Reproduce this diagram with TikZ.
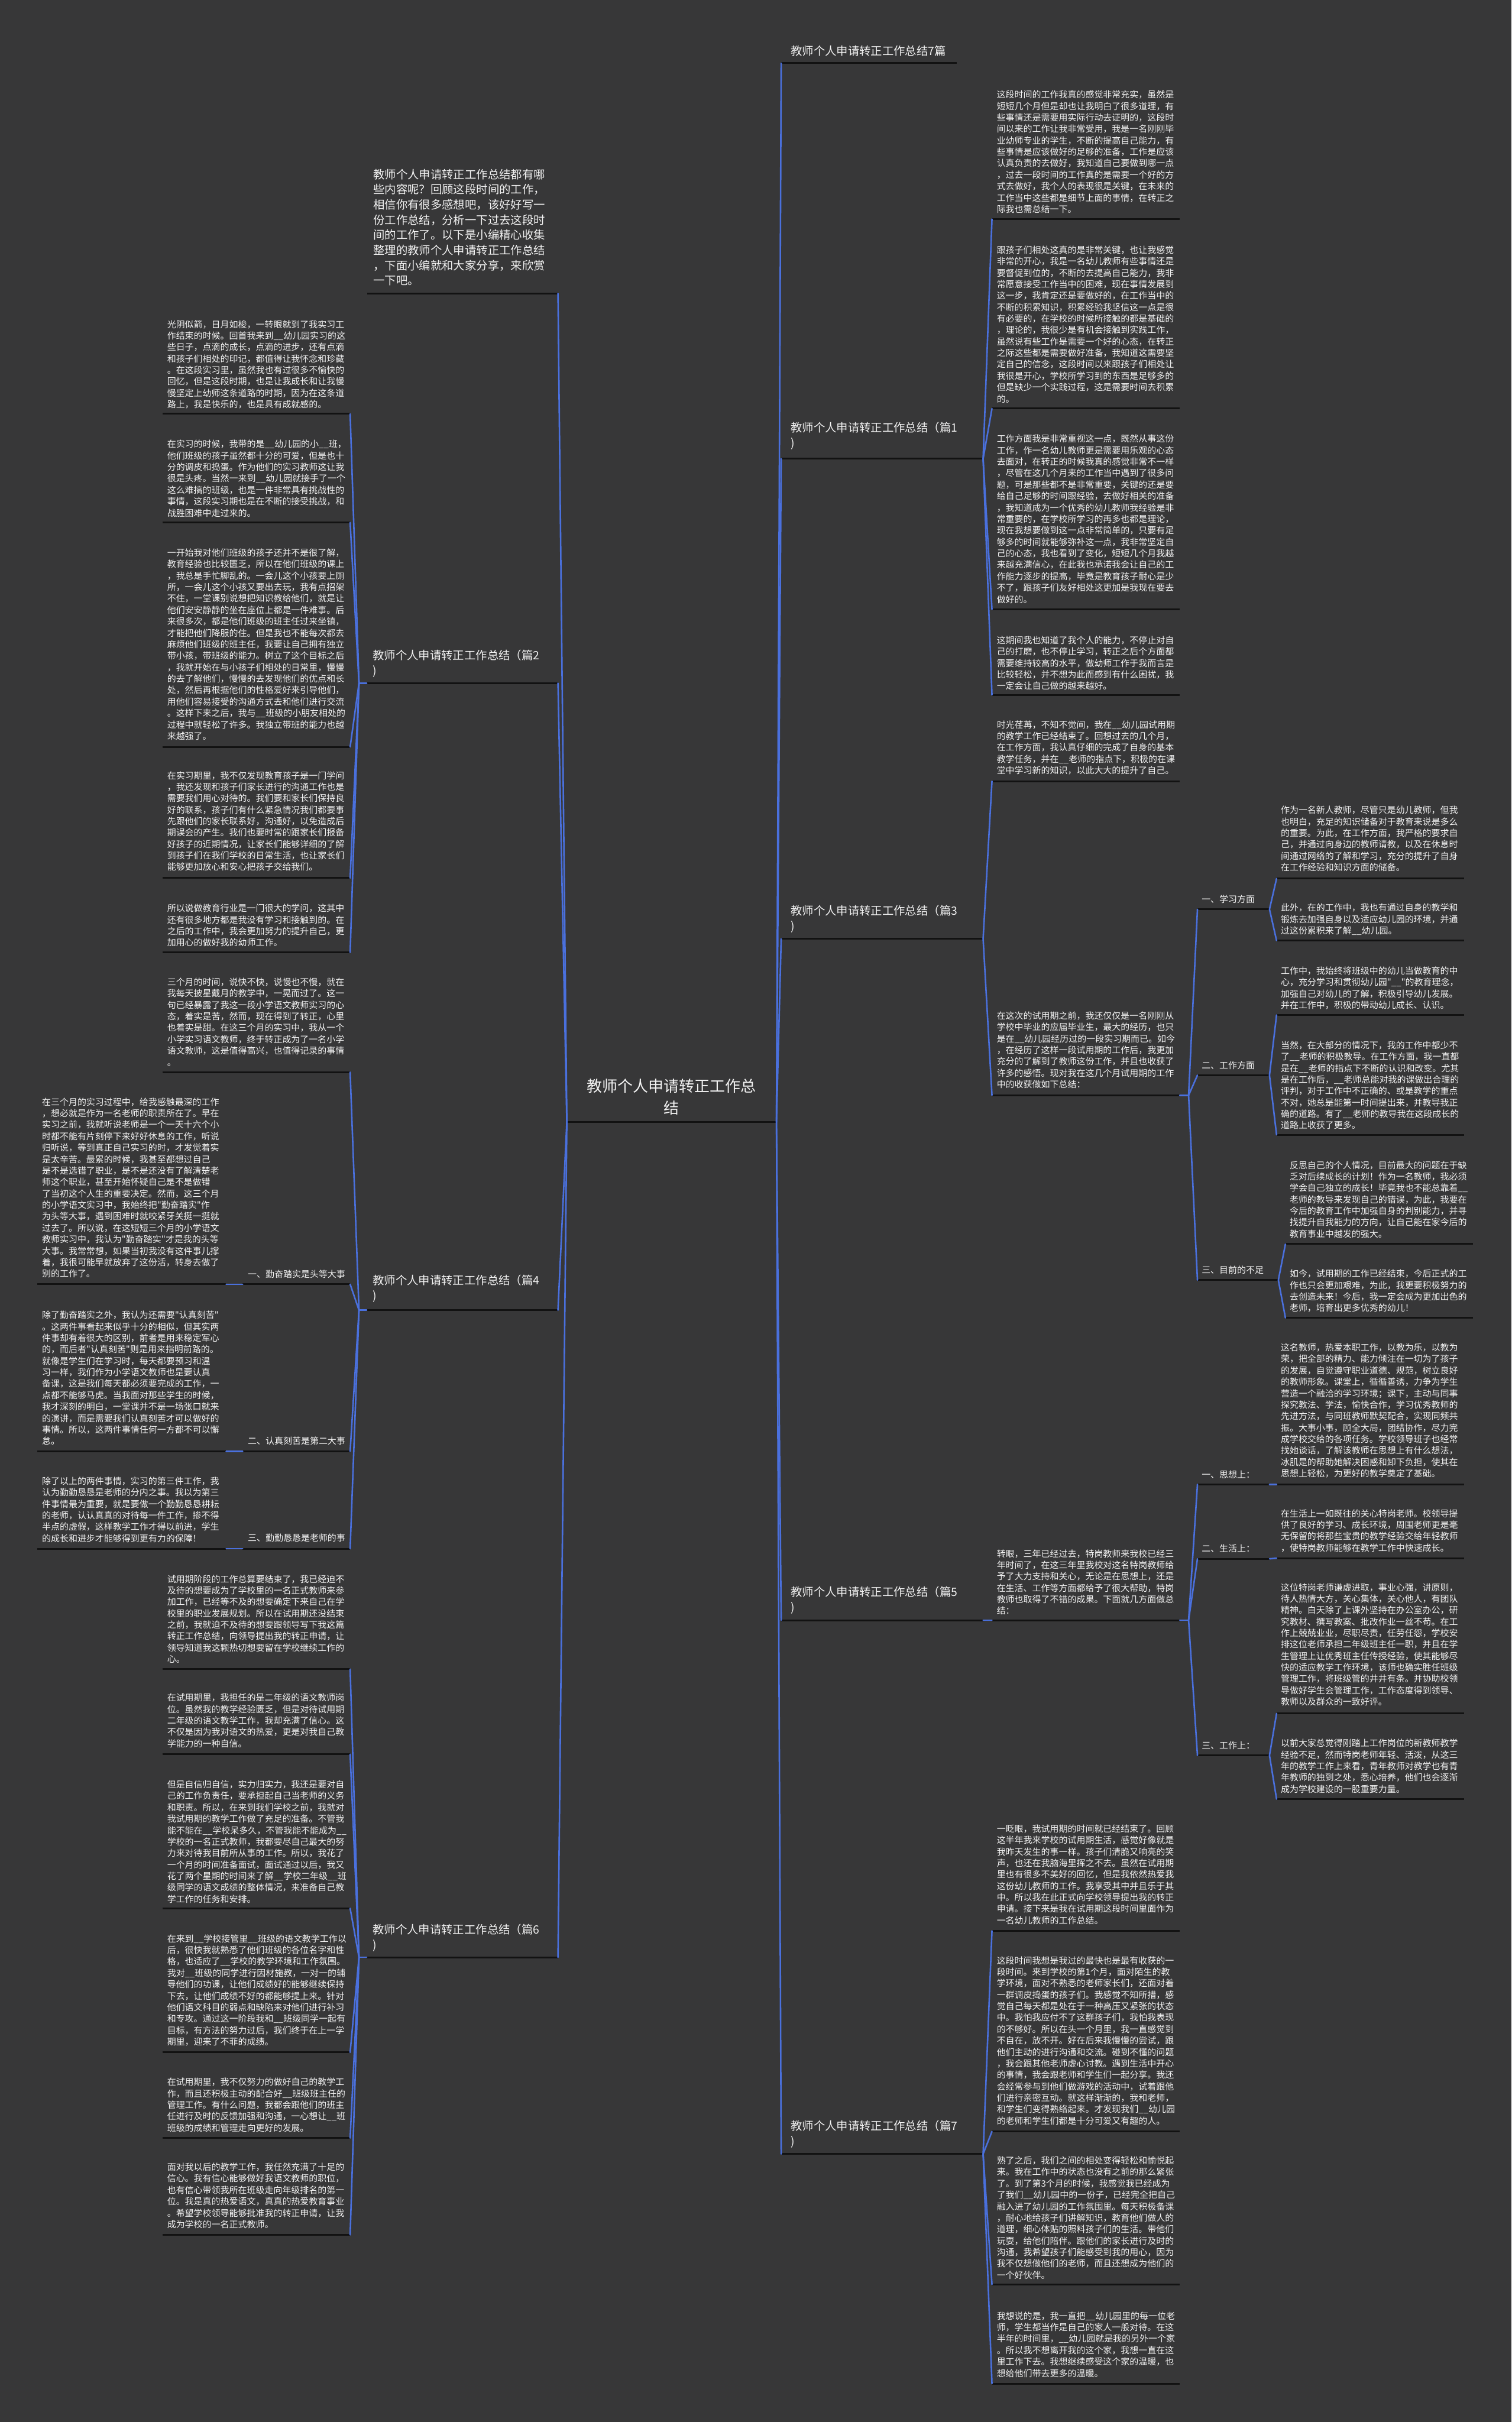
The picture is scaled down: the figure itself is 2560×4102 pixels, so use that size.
\documentclass[tikz,border=0pt]{standalone}
\usepackage{fontspec}
\newfontfamily\cjk{Noto Sans CJK SC}
\definecolor{bgc}{RGB}{55,55,56}
\definecolor{bl}{RGB}{74,112,221}
\definecolor{txt}{RGB}{242,242,242}
\definecolor{ulc}{RGB}{18,18,18}
\tikzset{
 leaf/.style={anchor=north west,inner sep=0pt,align=left,text=txt,font=\cjk\fontsize{15}{19.4}\selectfont},
 sublab/.style={inner sep=0pt,text=txt,font=\cjk\fontsize{15}{19.4}\selectfont},
 branch/.style={anchor=north west,inner sep=0pt,align=left,text=txt,font=\cjk\fontsize{19.4}{26}\selectfont},
 ul/.style={draw=ulc,line width=3pt},
 conn/.style={draw=bl,line width=2.6pt,line cap=round,line join=round},
}
% name, xl, xr, xtext, yfirst, yunder, text
\newcommand\LN[7]{%
  \node[leaf] (#1) at (#4,{#5-7}) {#7};
  \coordinate (#1L) at (#2,#6);
  \coordinate (#1R) at (#3,#6);
  \draw[ul] (#1L) -- (#1R);}
% name, xtext, yfirst, xl, xr, yunder, text
\newcommand\BR[7]{%
  \node[branch] (#1) at (#2,{#3-9}) {#7};
  \coordinate (#1L) at (#4,#6);
  \coordinate (#1R) at (#5,#6);
  \draw[ul] (#1L) -- (#1R);}
\begin{document}
\begin{tikzpicture}[x=1pt,y=-1pt]
\fill[bgc] (0,0) rectangle (2560,4102);
\useasboundingbox (0,0) rectangle (2560,4102);

% ---------- centre ----------
\node[anchor=north,inner sep=0pt,align=center,text=txt,font=\cjk\fontsize{26}{37}\selectfont] (center) at (1137,1827) {教师个人申请转正工作总\\结};
\coordinate (cL) at (960,1900);
\coordinate (cR) at (1315,1900);
\draw[ul] (cL) -- (cR);

% ---------- left branches ----------
\node[anchor=north west,inner sep=0pt,align=left,text=txt,font=\cjk\fontsize{19.4}{25.7}\selectfont] (intro) at (632,286) {教师个人申请转正工作总结都有哪\\些内容呢？回顾这段时间的工作，\\相信你有很多感想吧，该好好写一\\份工作总结，分析一下过去这段时\\间的工作了。以下是小编精心收集\\整理的教师个人申请转正工作总结\\，下面小编就和大家分享，来欣赏\\一下吧。};
\coordinate (introL) at (622,497);
\coordinate (introR) at (945,497);
\draw[ul] (introL) -- (introR);

\BR{b2}{631}{1109}{621}{945}{1157}{教师个人申请转正工作总结（篇2\\)}
\BR{b4}{631}{2168}{621}{945}{2219}{教师个人申请转正工作总结（篇4\\)}
\BR{b6}{631}{3267}{621}{945}{3315}{教师个人申请转正工作总结（篇6\\)}

% ---------- right branches ----------
\node[branch] (title) at (1339,{86-9}) {教师个人申请转正工作总结7篇};
\coordinate (titleL) at (1323,107);
\coordinate (titleR) at (1620,107);
\draw[ul] (titleL) -- (titleR);
\BR{b1}{1339}{724}{1323}{1665}{777}{教师个人申请转正工作总结（篇1\\)}
\BR{b3}{1339}{1542}{1323}{1665}{1590}{教师个人申请转正工作总结（篇3\\)}
\BR{b5}{1339}{2696}{1323}{1665}{2744}{教师个人申请转正工作总结（篇5\\)}
\BR{b7}{1339}{3600}{1323}{1665}{3648}{教师个人申请转正工作总结（篇7\\)}

% ---------- centre connectors ----------
\foreach \t in {introR,b2R,b4R,b6R}{\draw[conn] (cL) -- (\t);}
\foreach \t in {titleL,b1L,b3L,b5L,b7L}{\draw[conn] (cR) -- (\t);}

% ---------- 篇2 leaves ----------
\LN{l1}{275}{593}{283}{549}{701}{光阴似箭，日月如梭，一转眼就到了我实习工\\作结束的时候。回首我来到\_\_幼儿园实习的这\\些日子，点滴的成长，点滴的进步，还有点滴\\和孩子们相处的印记，都值得让我怀念和珍藏\\。在这段实习里，虽然我也有过很多不愉快的\\回忆，但是这段时期，也是让我成长和让我慢\\慢坚定上幼师这条道路的时期，因为在这条道\\路上，我是快乐的，也是具有成就感的。}
\LN{l2}{275}{593}{283}{752}{885}{在实习的时候，我带的是\_\_幼儿园的小\_\_班，\\他们班级的孩子虽然都十分的可爱，但是也十\\分的调皮和捣蛋。作为他们的实习教师这让我\\很是头疼。当然一来到\_\_幼儿园就接手了一个\\这么难搞的班级，也是一件非常具有挑战性的\\事情，这段实习期也是在不断的接受挑战，和\\战胜困难中走过来的。}
\LN{l3}{275}{593}{283}{936}{1265}{一开始我对他们班级的孩子还并不是很了解，\\教育经验也比较匮乏，所以在他们班级的课上\\，我总是手忙脚乱的。一会儿这个小孩要上厕\\所，一会儿这个小孩又要出去玩，我有点招架\\不住，一堂课别说想把知识教给他们，就是让\\他们安安静静的坐在座位上都是一件难事。后\\来很多次，都是他们班级的班主任过来坐镇，\\才能把他们降服的住。但是我也不能每次都去\\麻烦他们班级的班主任，我要让自己拥有独立\\带小孩，带班级的能力。树立了这个目标之后\\，我就开始在与小孩子们相处的日常里，慢慢\\的去了解他们，慢慢的去发现他们的优点和长\\处，然后再根据他们的性格爱好来引导他们，\\用他们容易接受的沟通方式去和他们进行交流\\。这样下来之后，我与\_\_班级的小朋友相处的\\过程中就轻松了许多。我独立带班的能力也越\\来越强了。}
\LN{l4}{275}{593}{283}{1313}{1487}{在实习期里，我不仅发现教育孩子是一门学问\\，我还发现和孩子们家长进行的沟通工作也是\\需要我们用心对待的。我们要和家长们保持良\\好的联系，孩子们有什么紧急情况我们都要事\\先跟他们的家长联系好，沟通好，以免造成后\\期误会的产生。我们也要时常的跟家长们报备\\好孩子的近期情况，让家长们能够详细的了解\\到孩子们在我们学校的日常生活，也让家长们\\能够更加放心和安心把孩子交给我们。}
\LN{l5}{275}{593}{283}{1538}{1613}{所以说做教育行业是一门很大的学问，这其中\\还有很多地方都是我没有学习和接触到的。在\\之后的工作中，我会更加努力的提升自己，更\\加用心的做好我的幼师工作。}
\coordinate (b2J) at (608,1157);
\draw[conn] (b2L) -- (b2J);
\foreach \t in {l1R,l2R,l3R,l4R,l5R}{\draw[conn] (b2J) -- (\t);}

% ---------- 篇4 ----------
\LN{l6}{275}{593}{283}{1663}{1816}{三个月的时间，说快不快，说慢也不慢，就在\\我每天披星戴月的教学中，一晃而过了。这一\\句已经暴露了我这一段小学语文教师实习的心\\态，着实是苦，然而，现在得到了转正，心里\\也着实是甜。在这三个月的实习中，我从一个\\小学实习语文教师，终于转正成为了一名小学\\语文教师，这是值得高兴，也值得记录的事情\\。}
\node[sublab,anchor=east] (s41) at (585,2158) {一、勤奋踏实是头等大事};
\node[sublab,anchor=east] (s42) at (585,2440) {二、认真刻苦是第二大事};
\node[sublab,anchor=east] (s43) at (585,2605) {三、勤勤恳恳是老师的事};
\coordinate (s41L) at (411,2175); \coordinate (s41R) at (593,2175);
\coordinate (s42L) at (411,2458); \coordinate (s42R) at (593,2458);
\coordinate (s43L) at (411,2623); \coordinate (s43R) at (593,2623);
\draw[ul] (s41L) -- (s41R); \draw[ul] (s42L) -- (s42R); \draw[ul] (s43L) -- (s43R);
\LN{t1}{63}{383}{71}{1866}{2175}{在三个月的实习过程中，给我感触最深的工作\\，想必就是作为一名老师的职责所在了。早在\\实习之前，我就听说老师是一个一天十六个小\\时都不能有片刻停下来好好休息的工作，听说\\归听说，等到真正自己实习的时，才发觉着实\\是太辛苦。最累的时候，我甚至都想过自己\\是不是选错了职业，是不是还没有了解清楚老\\师这个职业，甚至开始怀疑自己是不是做错\\了当初这个人生的重要决定。然而，这三个月\\的小学语文实习中，我始终把"勤奋踏实"作\\为头等大事，遇到困难时就咬紧牙关挺一挺就\\过去了。所以说，在这短短三个月的小学语文\\教师实习中，我认为"勤奋踏实"才是我的头等\\大事。我常常想，如果当初我没有这件事儿撑\\着，我很可能早就放弃了这份活，转身去做了\\别的工作了。}
\LN{t2}{63}{383}{71}{2227}{2458}{除了勤奋踏实之外，我认为还需要"认真刻苦"\\。这两件事看起来似乎十分的相似，但其实两\\件事却有着很大的区别，前者是用来稳定军心\\的，而后者"认真刻苦"则是用来指明前路的。\\就像是学生们在学习时，每天都要预习和温\\习一样，我们作为小学语文教师也是要认真\\备课，这是我们每天都必须要完成的工作，一\\点都不能够马虎。当我面对那些学生的时候，\\我才深刻的明白，一堂课并不是一场张口就来\\的演讲，而是需要我们认真刻苦才可以做好的\\事情。所以，这两件事情任何一方都不可以懈\\怠。}
\LN{t3}{63}{383}{71}{2508}{2623}{除了以上的两件事情，实习的第三件工作，我\\认为勤勤恳恳是老师的分内之事。我以为第三\\件事情最为重要，就是要做一个勤勤恳恳耕耘\\的老师，认认真真的对待每一件工作，掺不得\\半点的虚假，这样教学工作才得以前进，学生\\的成长和进步才能够得到更有力的保障！}
\draw[conn] (t1R) -- (s41L); \draw[conn] (t2R) -- (s42L); \draw[conn] (t3R) -- (s43L);
\coordinate (b4J) at (608,2219);
\draw[conn] (b4L) -- (b4J);
\foreach \t in {l6R,s41R,s42R,s43R}{\draw[conn] (b4J) -- (\t);}

% ---------- 篇6 ----------
\LN{l7}{275}{593}{283}{2674}{2827}{试用期阶段的工作总算要结束了，我已经迫不\\及待的想要成为了学校里的一名正式教师来参\\加工作，已经等不及的想要确定下来自己在学\\校里的职业发展规划。所以在试用期还没结束\\之前，我就迫不及待的想要跟领导写下我这篇\\转正工作总结，向领导提出我的转正申请，让\\领导知道我这颗热切想要留在学校继续工作的\\心。}
\LN{l8}{275}{593}{283}{2875}{2971}{在试用期里，我担任的是二年级的语文教师岗\\位。虽然我的教学经验匮乏，但是对待试用期\\二年级的语文教学工作，我却充满了信心。这\\不仅是因为我对语文的热爱，更是对我自己教\\学能力的一种自信。}
\LN{l9}{275}{593}{283}{3022}{3232}{但是自信归自信，实力归实力，我还是要对自\\己的工作负责任，要承担起自己当老师的义务\\和职责。所以，在来到我们学校之前，我就对\\我试用期的教学工作做了充足的准备。不管我\\能不能在\_\_学校呆多久，不管我能不能成为\_\_\\学校的一名正式教师，我都要尽自己最大的努\\力来对待我目前所从事的工作。所以，我花了\\一个月的时间准备面试，面试通过以后，我又\\花了两个星期的时间来了解\_\_学校二年级\_\_班\\级同学的语文成绩的整体情况，来准备自己教\\学工作的任务和安排。}
\LN{l10}{275}{593}{283}{3283}{3476}{在来到\_\_学校接管里\_\_班级的语文教学工作以\\后，很快我就熟悉了他们班级的各位名字和性\\格，也适应了\_\_学校的教学环境和工作氛围。\\我对\_\_班级的同学进行因材施教，一对一的辅\\导他们的功课，让他们成绩好的能够继续保持\\下去，让他们成绩不好的都能够提上来。针对\\他们语文科目的弱点和缺陷来对他们进行补习\\和专攻。通过这一阶段我和\_\_班级同学一起有\\目标，有方法的努力过后，我们终于在上一学\\期里，迎来了不菲的成绩。}
\LN{l11}{275}{593}{283}{3526}{3621}{在试用期里，我不仅努力的做好自己的教学工\\作，而且还积极主动的配合好\_\_班级班主任的\\管理工作。有什么问题，我都会跟他们的班主\\任进行及时的反馈加强和沟通，一心想让\_\_班\\班级的成绩和管理走向更好的发展。}
\LN{l12}{275}{593}{283}{3670}{3785}{面对我以后的教学工作，我任然充满了十足的\\信心。我有信心能够做好我语文教师的职位，\\也有信心带领我所在班级走向年级排名的第一\\位。我是真的热爱语文，真真的热爱教育事业\\。希望学校领导能够批准我的转正申请，让我\\成为学校的一名正式教师。}
\coordinate (b6J) at (608,3315);
\draw[conn] (b6L) -- (b6J);
\foreach \t in {l7R,l8R,l9R,l10R,l11R,l12R}{\draw[conn] (b6J) -- (\t);}

% ---------- 篇1 ----------
\LN{r1}{1680}{1998}{1688}{160}{371}{这段时间的工作我真的感觉非常充实，虽然是\\短短几个月但是却也让我明白了很多道理，有\\些事情还是需要用实际行动去证明的，这段时\\间以来的工作让我非常受用，我是一名刚刚毕\\业幼师专业的学生，不断的提高自己能力，有\\些事情是应该做好的足够的准备，工作是应该\\认真负责的去做好，我知道自己要做到哪一点\\，过去一段时间的工作真的是需要一个好的方\\式去做好，我个人的表现很是关键，在未来的\\工作当中这些都是细节上面的事情，在转正之\\际我也需总结一下。}
\LN{r2}{1680}{1998}{1688}{423}{692}{跟孩子们相处这真的是非常关键，也让我感觉\\非常的开心，我是一名幼儿教师有些事情还是\\要督促到位的，不断的去提高自己能力，我非\\常愿意接受工作当中的困难，现在事情发展到\\这一步，我肯定还是要做好的，在工作当中的\\不断的积累知识，积累经验我坚信这一点是很\\有必要的，在学校的时候所接触的都是基础的\\，理论的，我很少是有机会接触到实践工作，\\虽然说有些工作是需要一个好的心态，在转正\\之际这些都是需要做好准备，我知道这需要坚\\定自己的信念，这段时间以来跟孩子们相处让\\我很是开心，学校所学习到的东西是足够多的\\但是缺少一个实践过程，这是需要时间去积累\\的。}
\LN{r3}{1680}{1998}{1688}{743}{1032}{工作方面我是非常重视这一点，既然从事这份\\工作，作一名幼儿教师更是需要用乐观的心态\\去面对，在转正的时候我真的感觉非常不一样\\，尽管在这几个月来的工作当中遇到了很多问\\题，可是那些都不是非常重要，关键的还是要\\给自己足够的时间跟经验，去做好相关的准备\\，我知道成为一个优秀的幼儿教师我经验是非\\常重要的，在学校所学习的再多也都是理论，\\现在我想要做到这一点非常简单的，只要有足\\够多的时间就能够弥补这一点，我非常坚定自\\己的心态，我也看到了变化，短短几个月我越\\来越充满信心，在此我也承诺我会让自己的工\\作能力逐步的提高，毕竟是教育孩子耐心是少\\不了，跟孩子们友好相处这更加是我现在要去\\做好的。}
\LN{r4}{1680}{1998}{1688}{1084}{1177}{这期间我也知道了我个人的能力，不停止对自\\己的打磨，也不停止学习，转正之后个方面都\\需要维持较高的水平，做幼师工作于我而言是\\比较轻松，并不想为此而感到有什么困扰，我\\一定会让自己做的越来越好。}
\foreach \t in {r1L,r2L,r3L,r4L}{\draw[conn] (b1R) -- (\t);}

% ---------- 篇3 ----------
\LN{r5}{1680}{1998}{1688}{1227}{1323}{时光荏苒，不知不觉间，我在\_\_幼儿园试用期\\的教学工作已经结束了。回想过去的几个月，\\在工作方面，我认真仔细的完成了自身的基本\\教学任务，并在\_\_老师的指点下，积极的在课\\堂中学习新的知识，以此大大的提升了自己。}
\LN{r6}{1680}{1998}{1688}{1720}{1855}{在这次的试用期之前，我还仅仅是一名刚刚从\\学校中毕业的应届毕业生，最大的经历，也只\\是在\_\_幼儿园经历过的一段实习期而已。如今\\，在经历了这样一段试用期的工作后，我更加\\充分的了解到了教师这份工作，并且也收获了\\许多的感悟。现对我在这几个月试用期的工作\\中的收获做如下总结：}
\foreach \t in {r5L,r6L}{\draw[conn] (b3R) -- (\t);}
\node[sublab,anchor=west] (p31) at (2035,1523) {一、学习方面};
\node[sublab,anchor=west] (p32) at (2035,1804) {二、工作方面};
\node[sublab,anchor=west] (p33) at (2035,2151) {三、目前的不足};
\coordinate (p31L) at (2028,1540); \coordinate (p31R) at (2150,1540);
\coordinate (p32L) at (2028,1821); \coordinate (p32R) at (2150,1821);
\coordinate (p33L) at (2028,2168); \coordinate (p33R) at (2165,2168);
\draw[ul] (p31L) -- (p31R); \draw[ul] (p32L) -- (p32R); \draw[ul] (p33L) -- (p33R);
\coordinate (r6J) at (2013,1855);
\draw[conn] (r6R) -- (r6J);
\foreach \t in {p31L,p32L,p33L}{\draw[conn] (r6J) -- (\t);}
\LN{f1}{2162}{2480}{2169}{1372}{1488}{作为一名新人教师，尽管只是幼儿教师，但我\\也明白，充足的知识储备对于教育来说是多么\\的重要。为此，在工作方面，我严格的要求自\\己，并通过向身边的教师请教，以及在休息时\\间通过网络的了解和学习，充分的提升了自身\\在工作经验和知识方面的储备。}
\LN{f2}{2162}{2480}{2169}{1537}{1593}{此外，在的工作中，我也有通过自身的教学和\\锻炼去加强自身以及适应幼儿园的环境，并通\\过这份累积来了解\_\_幼儿园。}
\LN{f3}{2162}{2480}{2169}{1644}{1719}{工作中，我始终将班级中的幼儿当做教育的中\\心，充分学习和贯彻幼儿园"\_\_"的教育理念，\\加强自己对幼儿的了解，积极引导幼儿发展。\\并在工作中，积极的带动幼儿成长、认识。}
\LN{f4}{2162}{2480}{2169}{1770}{1922}{当然，在大部分的情况下，我的工作中都少不\\了\_\_老师的积极教导。在工作方面，我一直都\\是在\_\_老师的指点下不断的认识和改变。尤其\\是在工作后，\_\_老师总能对我的课做出合理的\\评判，对于工作中不正确的、或是教学的重点\\不对，她总是能第一时间提出来，并教导我正\\确的道路。有了\_\_老师的教导我在这段成长的\\道路上收获了更多。}
\LN{f5}{2177}{2495}{2184}{1973}{2107}{反思自己的个人情况，目前最大的问题在于缺\\乏对后续成长的计划！作为一名教师，我必须\\学会自己独立的成长！毕竟我也不能总靠着\_\_\\老师的教导来发现自己的错误，为此，我要在\\今后的教育工作中加强自身的判别能力，并寻\\找提升自我能力的方向，让自己能在家今后的\\教育事业中越发的强大。}
\LN{f6}{2177}{2495}{2184}{2157}{2232}{如今，试用期的工作已经结束，今后正式的工\\作也只会更加艰难，为此，我更要积极努力的\\去创造未来！今后，我一定会成为更加出色的\\老师，培育出更多优秀的幼儿！}
\draw[conn] (p31R) -- (f1L); \draw[conn] (p31R) -- (f2L);
\draw[conn] (p32R) -- (f3L); \draw[conn] (p32R) -- (f4L);
\draw[conn] (p33R) -- (f5L); \draw[conn] (p33R) -- (f6L);

% ---------- 篇5 ----------
\LN{r7}{1680}{1998}{1688}{2631}{2744}{转眼，三年已经过去，特岗教师来我校已经三\\年时间了，在这三年里我校对这名特岗教师给\\予了大力支持和关心，无论是在思想上，还是\\在生活、工作等方面都给予了很大帮助，特岗\\教师也取得了不错的成果。下面就几方面做总\\结：}
\draw[conn] (b5R) -- (r7L);
\node[sublab,anchor=west] (p51) at (2035,2497) {一、思想上：};
\node[sublab,anchor=west] (p52) at (2035,2623) {二、生活上：};
\node[sublab,anchor=west] (p53) at (2035,2956) {三、工作上：};
\coordinate (p51L) at (2028,2514); \coordinate (p51R) at (2150,2514);
\coordinate (p52L) at (2028,2640); \coordinate (p52R) at (2150,2640);
\coordinate (p53L) at (2028,2973); \coordinate (p53R) at (2150,2973);
\draw[ul] (p51L) -- (p51R); \draw[ul] (p52L) -- (p52R); \draw[ul] (p53L) -- (p53R);
\coordinate (r7J) at (2013,2744);
\draw[conn] (r7R) -- (r7J);
\foreach \t in {p51L,p52L,p53L}{\draw[conn] (r7J) -- (\t);}
\LN{f7}{2162}{2480}{2169}{2282}{2514}{这名教师，热爱本职工作，以教为乐，以教为\\荣，把全部的精力、能力倾注在一切为了孩子\\的发展，自觉遵守职业道德、规范，树立良好\\的教师形象。课堂上，循循善诱，力争为学生\\营造一个融洽的学习环境；课下，主动与同事\\探究教法、学法，愉快合作，学习优秀教师的\\先进方法，与同班教师默契配合，实现同频共\\振。大事小事，顾全大局，团结协作，尽力完\\成学校交给的各项任务。学校领导班子也经常\\找她谈话，了解该教师在思想上有什么想法，\\冰肌是的帮助她解决困惑和卸下负担，使其在\\思想上轻松，为更好的教学奠定了基础。}
\LN{f8}{2162}{2480}{2169}{2563}{2639}{在生活上一如既往的关心特岗老师。校领导提\\供了良好的学习、成长环境，周围老师更是毫\\无保留的将那些宝贵的教学经验交给年轻教师\\，使特岗教师能够在教学工作中快速成长。}
\LN{f9}{2162}{2480}{2169}{2688}{2902}{这位特岗老师谦虚进取，事业心强，讲原则，\\待人热情大方，关心集体，关心他人，有团队\\精神。白天除了上课外坚持在办公室办公，研\\究教材、撰写教案、批改作业一丝不苟。在工\\作上兢兢业业，尽职尽责，任劳任怨，学校安\\排这位老师承担二年级班主任一职，并且在学\\生管理上让优秀班主任传授经验，使其能够尽\\快的适应教学工作环境，该师也确实胜任班级\\管理工作，将班级管的井井有条。并协助校领\\导做好学生会管理工作，工作态度得到领导、\\教师以及群众的一致好评。}
\LN{f10}{2162}{2480}{2169}{2952}{3047}{以前大家总觉得刚踏上工作岗位的新教师教学\\经验不足，然而特岗老师年轻、活泼，从这三\\年的教学工作上来看，青年教师对教学也有青\\年教师的独到之处，悉心培养，他们也会逐渐\\成为学校建设的一股重要力量。}
\draw[conn] (p51R) -- (f7L);
\draw[conn] (p52R) -- (f8L);
\draw[conn] (p53R) -- (f9L); \draw[conn] (p53R) -- (f10L);

% ---------- 篇7 ----------
\LN{r8}{1680}{1998}{1688}{3097}{3270}{一眨眼，我试用期的时间就已经结束了。回顾\\这半年我来学校的试用期生活，感觉好像就是\\我昨天发生的事一样。孩子们清脆又响亮的笑\\声，也还在我脑海里挥之不去。虽然在试用期\\里也有很多不美好的回忆，但是我依然热爱我\\这份幼儿教师的工作。我享受其中并且乐于其\\中。所以我在此正式向学校领导提出我的转正\\申请。接下来是我在试用期这段时间里面作为\\一名幼儿教师的工作总结。}
\LN{r9}{1680}{1998}{1688}{3320}{3610}{这段时间我想是我过的最快也是最有收获的一\\段时间。来到学校的第1个月，面对陌生的教\\学环境，面对不熟悉的老师家长们，还面对着\\一群调皮捣蛋的孩子们。我感觉不知所措，感\\觉自己每天都是处在于一种高压又紧张的状态\\中。我怕我应付不了这群孩子们，我怕我表现\\的不够好。所以在头一个月里，我一直感觉到\\不自在，放不开。好在后来我慢慢的尝试，跟\\他们主动的进行沟通和交流。碰到不懂的问题\\，我会跟其他老师虚心讨教。遇到生活中开心\\的事情，我会跟老师和学生们一起分享。我还\\会经常参与到他们做游戏的活动中，试着跟他\\们进行亲密互动。就这样渐渐的，我和老师，\\和学生们变得熟络起来。才发现我们\_\_幼儿园\\的老师和学生们都是十分可爱又有趣的人。}
\LN{r10}{1680}{1998}{1688}{3659}{3869}{熟了之后，我们之间的相处变得轻松和愉悦起\\来。我在工作中的状态也没有之前的那么紧张\\了。到了第3个月的时候，我感觉我已经成为\\了我们\_\_幼儿园中的一份子，已经完全把自己\\融入进了幼儿园的工作氛围里。每天积极备课\\，耐心地给孩子们讲解知识，教育他们做人的\\道理，细心体贴的照料孩子们的生活。带他们\\玩耍，给他们陪伴。跟他们的家长进行及时的\\沟通，我希望孩子们能感受到我的用心，因为\\我不仅想做他们的老师，而且还想成为他们的\\一个好伙伴。}
\LN{r11}{1680}{1998}{1688}{3922}{4037}{我想说的是，我一直把\_\_幼儿园里的每一位老\\师，学生都当作是自己的家人一般对待。在这\\半年的时间里，\_\_幼儿园就是我的另外一个家\\。所以我不想离开我的这个家，我想一直在这\\里工作下去。我想继续感受这个家的温暖，也\\想给他们带去更多的温暖。}
\foreach \t in {r8L,r9L,r10L,r11L}{\draw[conn] (b7R) -- (\t);}
\end{tikzpicture}
\end{document}
